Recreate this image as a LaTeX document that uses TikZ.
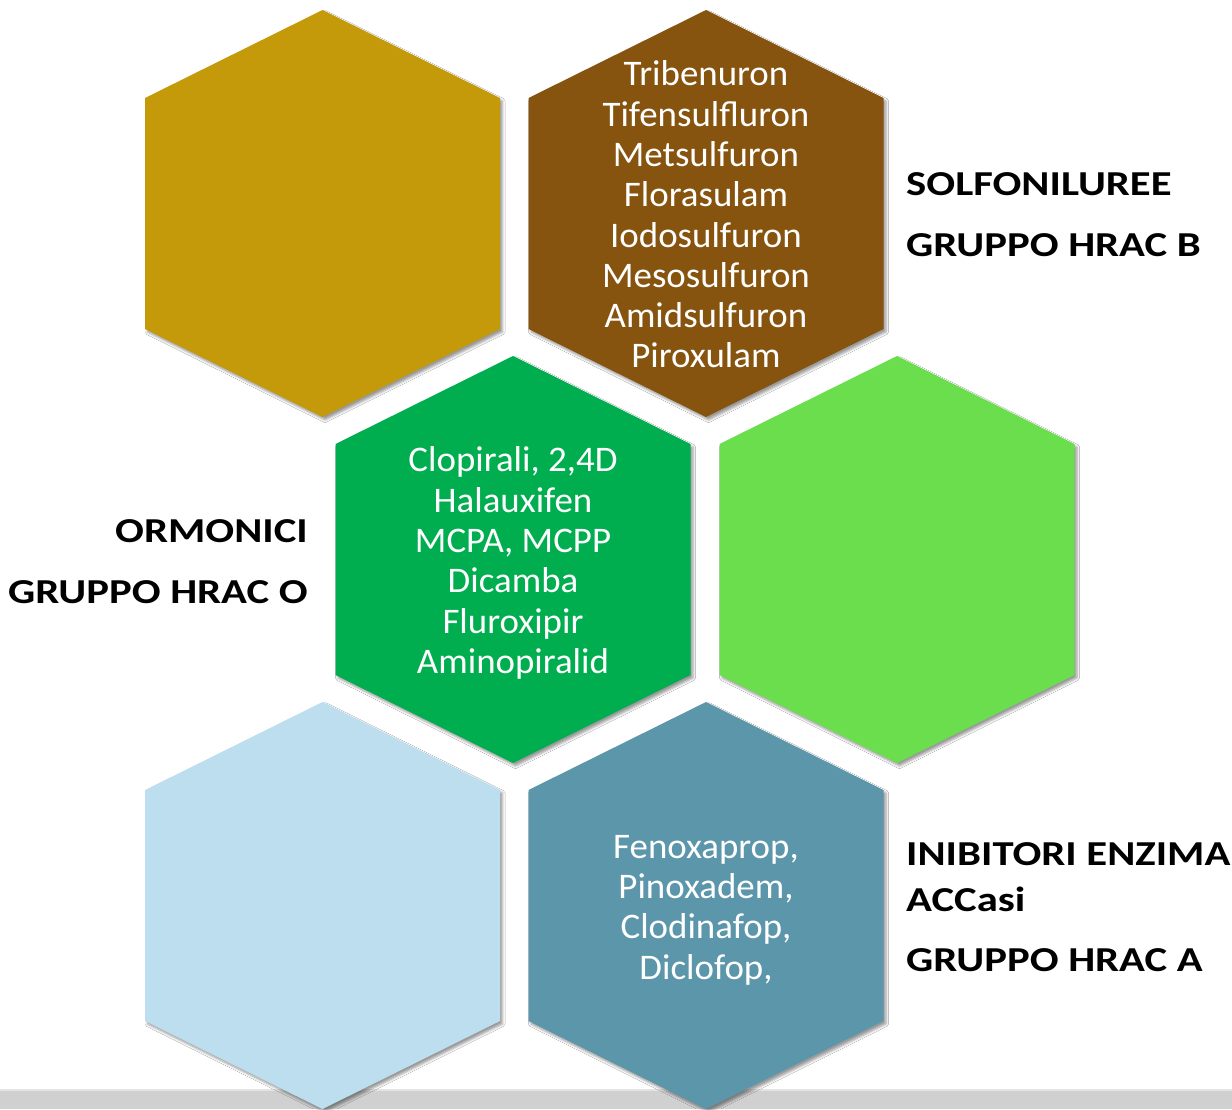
\documentclass[tikz,border=0pt]{standalone}
\usepackage{fontspec}
\setmainfont{Carlito}
\usetikzlibrary{shadows.blur}
\definecolor{cgold}{HTML}{C49A0B}
\definecolor{cbrown}{HTML}{86540F}
\definecolor{cgreen}{HTML}{00AE50}
\definecolor{clgreen}{HTML}{6BDE4E}
\definecolor{clblue}{HTML}{BDDEEE}
\definecolor{cteal}{HTML}{5C96AA}
\definecolor{cbar}{HTML}{D0D0D0}
\newfontfamily\labelfont[FakeStretch=1.22]{Carlito}
\newfontfamily\hexfont[FakeStretch=1.025]{Carlito}
\tikzset{
  hexshade/.style={blur shadow={shadow xshift=2.5pt, shadow yshift=-3pt, shadow blur steps=4, shadow blur radius=2.5pt, shadow blur extra rounding=0pt, shadow opacity=40}},
  hextext/.style={text=white, align=center, font=\hexfont\fontsize{36}{40.3}\selectfont, inner sep=0pt},
  grouplabel/.style={text=black, font=\labelfont\fontsize{35}{40}\selectfont\bfseries, inner sep=0pt},
}
\newcommand\hexpath[3]{%
  \fill[#3, hexshade] (#1,#2-203.5) -- (#1+177.5,#2-115.5) -- (#1+177.5,#2+115.5) -- (#1,#2+203.5) -- (#1-177.5,#2+115.5) -- (#1-177.5,#2-115.5) -- cycle;}
\begin{document}
\begin{tikzpicture}[x=1pt,y=-1pt]
\useasboundingbox (0,0) rectangle (1232,1109);
\fill[white] (0,0) rectangle (1232,1109);
% bottom bar
\fill[cbar] (0,1090) rectangle (1232,1109);
\fill[cbar!60!white] (0,1089) rectangle (1232,1091);
% hexagons
\hexpath{322.5}{213.5}{cgold}
\hexpath{706}{213.5}{cbrown}
\hexpath{513}{559.5}{cgreen}
\hexpath{897}{559.5}{clgreen}
\hexpath{322.5}{905.5}{clblue}
\hexpath{706}{905.5}{cteal}
% hexagon texts
\node[hextext] (sulf) at (706,214.5) {Tribenuron\\Tifensulfluron\\Metsulfuron\\Florasulam\\Iodosulfuron\\Mesosulfuron\\Amidsulfuron\\Piroxulam};
\node[hextext] (horm) at (513,563) {Clopirali, 2,4D\\Halauxifen\\MCPA, MCPP\\Dicamba\\Fluroxipir\\Aminopiralid};
\node[hextext] (accs) at (706,910) {Fenoxaprop,\\Pinoxadem,\\Clodinafop,\\Diclofop,};
% group labels
\node[grouplabel, anchor=base west] (lb1) at (906,195) {SOLFONILUREE};
\node[grouplabel, anchor=base west] (lb2) at (906,256) {GRUPPO HRAC B};
\node[grouplabel, anchor=base east] (lo1) at (308,542) {ORMONICI};
\node[grouplabel, anchor=base east] (lo2) at (308,603) {GRUPPO HRAC O};
\node[grouplabel, anchor=base west] (la1) at (906,865) {INIBITORI ENZIMA};
\node[grouplabel, anchor=base west] (la2) at (906,911) {ACCasi};
\node[grouplabel, anchor=base west] (la3) at (906,971) {GRUPPO HRAC A};
\end{tikzpicture}
\end{document}
